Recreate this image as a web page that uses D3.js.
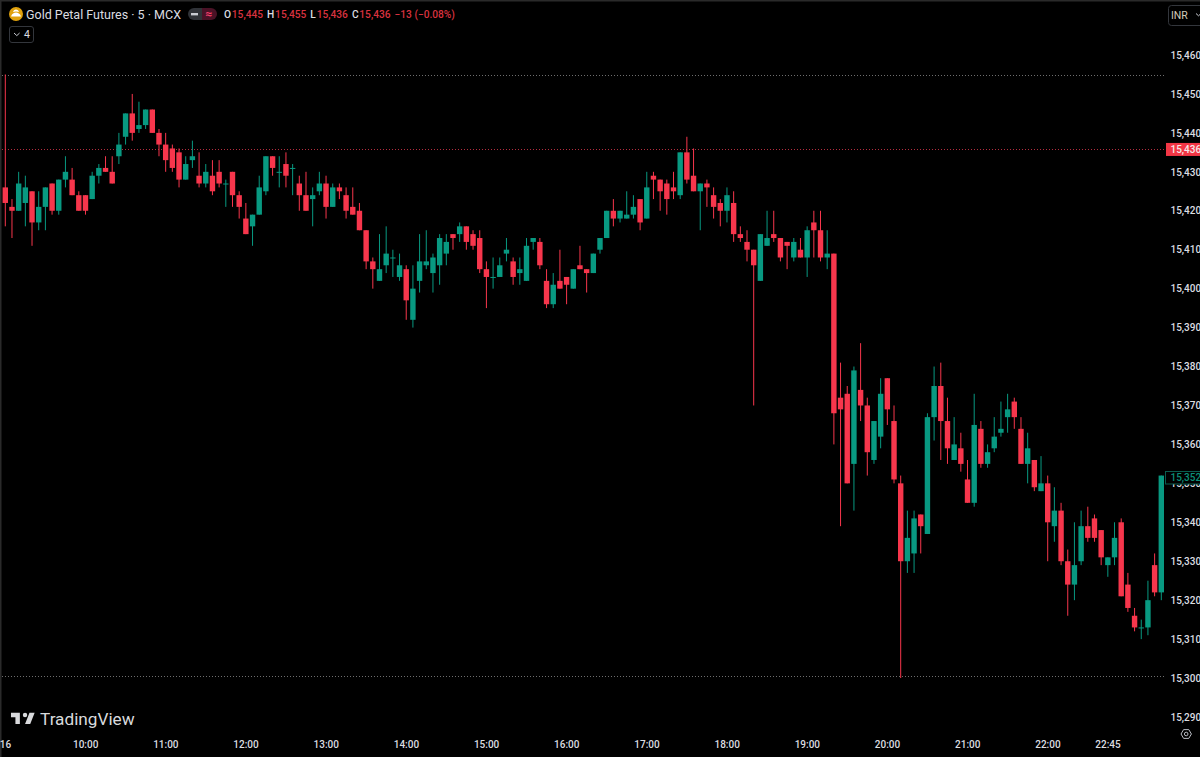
<!DOCTYPE html>
<html>
  <head>
    <meta charset="UTF-8" />
    <title>Gold Petal Futures</title>
    <style>
      html, body { margin: 0; padding: 0; background: #000; overflow: hidden; }
      svg { display: block; font-family: Roboto, "Liberation Sans", sans-serif; }
      .domain { display: none; }
      .axis text { fill: #dcdde0; font-size: 10px; font-weight: 500; font-family: Roboto, sans-serif; }
    </style>
    <script src="https://d3js.org/d3.v7.min.js"></script>
  </head>
  <body>
    <div id="viz"></div>
    <script>
      const opens = [
        15426,15421,15420,15422,15425,15417,15421,15427,15420,15428,
        15428,15424,15424,15423,15429,15431,15430,15434,15439,15445,
        15441,15442,15446,15440,15437,15436,15435,15428,15433,15429,
        15427,15429,15430,15427,15430,15424,15418,15416,15419,15425,
        15434,15430,15432,15431,15427,15424,15423,15425,15427,15421,
        15426,15424,15421,15420,15415,15407,15402,15406,15408,15403,
        15405,15392,15402,15406,15404,15406,15409,15414,15414,15416,
        15414,15413,15405,15403,15403,15409,15407,15404,15402,15412,
        15412,15402,15396,15402,15403,15400,15406,15405,15404,15410,
        15413,15420,15418,15418,15419,15423,15418,15429,15428,15427,
        15426,15424,15435,15429,15425,15427,15424,15422,15420,15422,
        15414,15412,15410,15402,15411,15414,15413,15412,15408,15410,
        15408,15417,15415,15408,15409,15372,15373,15355,15374,15370,
        15356,15362,15377,15366,15350,15330,15332,15342,15337,15367,
        15375,15366,15356,15359,15351,15345,15364,15355,15359,15363,
        15367,15371,15364,15355,15356,15348,15350,15339,15343,15330,
        15324,15330,15339,15341,15338,15329,15331,15340,15324,15316,
        15313,15313,15329,15322
      ];
      const highs = [
        15455,15423,15430,15429,15425,15425,15426,15427,15428,15434,
        15431,15425,15424,15430,15432,15434,15434,15440,15445,15450,
        15448,15446,15446,15441,15440,15437,15436,15434,15438,15435,
        15432,15433,15433,15428,15430,15425,15422,15419,15429,15434,
        15434,15434,15435,15432,15429,15430,15426,15430,15429,15427,
        15427,15426,15426,15422,15415,15408,15414,15416,15410,15409,
        15406,15406,15414,15415,15409,15414,15414,15414,15417,15416,
        15415,15415,15407,15408,15408,15413,15408,15408,15413,15413,
        15413,15405,15404,15410,15403,15405,15411,15405,15409,15413,
        15420,15423,15420,15425,15424,15423,15430,15430,15428,15428,
        15430,15435,15439,15436,15427,15428,15426,15423,15426,15425,
        15416,15415,15410,15414,15420,15420,15413,15412,15413,15413,
        15416,15420,15420,15415,15409,15381,15375,15380,15386,15372,
        15366,15377,15377,15370,15352,15343,15343,15342,15368,15380,
        15381,15372,15367,15363,15356,15373,15366,15360,15367,15371,
        15373,15372,15367,15363,15356,15357,15352,15349,15345,15333,
        15340,15343,15344,15342,15338,15331,15340,15341,15327,15318,
        15315,15325,15332,15352
      ];
      const lows = [
        15416,15413,15420,15416,15411,15415,15415,15419,15419,15426,
        15424,15420,15419,15423,15427,15430,15427,15432,15437,15438,
        15440,15441,15440,15434,15430,15430,15426,15428,15431,15426,
        15426,15424,15426,15421,15421,15418,15414,15411,15419,15424,
        15429,15426,15426,15424,15420,15420,15416,15424,15418,15421,
        15423,15418,15419,15415,15405,15400,15402,15404,15403,15402,
        15392,15390,15399,15405,15399,15401,15406,15410,15412,15410,
        15410,15404,15395,15400,15403,15407,15401,15401,15402,15410,
        15405,15395,15395,15400,15396,15400,15405,15399,15404,15409,
        15413,15416,15417,15418,15418,15415,15418,15423,15420,15419,
        15423,15423,15427,15425,15415,15421,15418,15416,15417,15412,
        15412,15407,15370,15402,15411,15412,15407,15405,15407,15408,
        15403,15408,15407,15405,15360,15339,15350,15343,15366,15352,
        15355,15359,15365,15350,15300,15327,15327,15332,15337,15361,
        15356,15355,15356,15353,15345,15344,15354,15354,15358,15362,
        15363,15364,15355,15350,15348,15348,15330,15335,15329,15316,
        15320,15329,15335,15335,15329,15326,15329,15321,15317,15312,
        15310,15311,15321,15320
      ];
      const closes = [
        15422,15420,15427,15426,15417,15421,15426,15420,15428,15430,
        15424,15420,15420,15429,15431,15430,15427,15437,15445,15440,
        15442,15446,15440,15437,15433,15431,15428,15432,15434,15427,
        15430,15425,15427,15427,15424,15421,15414,15419,15426,15434,
        15431,15430,15429,15431,15424,15420,15424,15427,15421,15426,
        15425,15420,15419,15415,15407,15405,15405,15409,15408,15406,
        15397,15400,15407,15407,15408,15413,15412,15413,15416,15412,
        15411,15405,15403,15403,15406,15410,15403,15405,15411,15413,
        15406,15396,15401,15400,15401,15405,15405,15404,15409,15413,
        15420,15418,15420,15419,15421,15417,15426,15428,15425,15423,
        15425,15435,15428,15425,15427,15426,15421,15420,15424,15414,
        15413,15410,15406,15414,15413,15413,15408,15411,15412,15408,
        15415,15415,15408,15409,15368,15369,15350,15379,15370,15358,
        15366,15373,15369,15351,15330,15336,15341,15339,15367,15375,
        15366,15359,15360,15355,15345,15365,15355,15358,15362,15364,
        15369,15367,15355,15359,15349,15350,15340,15343,15330,15324,
        15329,15339,15336,15336,15331,15331,15336,15321,15318,15313,
        15313,15320,15322,15352
      ];
      const priceTicks = [15460,15450,15440,15430,15420,15410,15400,15390,15380,15370,15360,15350,15340,15330,15320,15310,15300,15290];
      const timeTickBars = [0,12,24,36,48,60,72,84,96,108,120,132,144,156,165];
      const timeTickLabels = ['16','10:00','11:00','12:00','13:00','14:00','15:00','16:00','17:00','18:00','19:00','20:00','21:00','22:00','22:45'];
      const levelLines = [15454.8, 15435.8, 15300.5];
      const levelColors = ['#6e6e6e', '#b32c3e', '#6e6e6e'];
      const headerValues = [['O','15,445'],['H','15,455'],['L','15,436'],['C','15,436']];

      const W = 1200, H = 757;
      const RED = '#f7364c', GREEN = '#089981';

      const svg = d3.select('#viz').append('svg').attr('width', W).attr('height', H);
      svg.append('rect').attr('width', W).attr('height', H).attr('fill', '#000');
      // thin window edges
      svg.append('rect').attr('width', W).attr('height', 1.5).attr('fill', '#2a2a2a');
      svg.append('rect').attr('width', 1.5).attr('height', H).attr('fill', '#2a2a2a');

      const x = d3.scaleLinear().domain([0, opens.length - 1]).range([5, 1161]);
      const y = d3.scaleLinear().domain([15290, 15460]).range([717, 55]);

      // dotted level lines
      svg.selectAll('.level')
        .data(levelLines)
        .join('line')
        .attr('class', 'level')
        .attr('x1', 2)
        .attr('x2', 1166)
        .attr('y1', (d) => Math.round(y(d)) + 0.5)
        .attr('y2', (d) => Math.round(y(d)) + 0.5)
        .attr('stroke', (d, i) => levelColors[i])
        .attr('stroke-width', 1)
        .attr('stroke-dasharray', '1 2');

      // candles, left unsnapped so the wicks soften like the screenshot
      const candles = svg.append('g')
        .selectAll('g')
        .data(d3.range(opens.length))
        .join('g');
      const up = (i) => closes[i] >= opens[i];

      candles.append('line')
        .attr('x1', (i) => x(i) + 0.3)
        .attr('x2', (i) => x(i) + 0.3)
        .attr('y1', (i) => y(highs[i]))
        .attr('y2', (i) => y(lows[i]))
        .attr('stroke', (i) => (up(i) ? GREEN : RED))
        .attr('stroke-width', 1);

      candles.append('rect')
        .attr('x', (i) => x(i) - 2.4)
        .attr('width', 5.4)
        .attr('y', (i) => y(Math.max(opens[i], closes[i])))
        .attr('height', (i) => Math.max(1, Math.abs(y(opens[i]) - y(closes[i]))))
        .attr('fill', (i) => (up(i) ? GREEN : RED));

      // axes
      svg.append('g')
        .attr('class', 'axis')
        .attr('transform', 'translate(1170.5,0)')
        .call(d3.axisRight(y).tickValues(priceTicks).tickSize(0).tickPadding(0).tickFormat(d3.format(',')));

      svg.append('g')
        .attr('class', 'axis')
        .attr('transform', 'translate(0,737)')
        .call(d3.axisBottom(x).tickValues(timeTickBars).tickSize(0).tickPadding(4)
          .tickFormat((d) => timeTickLabels[timeTickBars.indexOf(d)]));

      // price tags
      svg.append('rect').attr('x', 1166).attr('y', y(15436) - 5.5).attr('width', 34).attr('height', 13).attr('fill', '#f23645');
      svg.append('text').attr('x', 1170.5).attr('y', y(15436) + 4.6).attr('fill', '#f5e9ea').attr('font-size', 10).attr('font-weight', 500).text('15,436');
      svg.append('rect').attr('x', 1165.5).attr('y', 471.5).attr('width', 35).attr('height', 12.5).attr('fill', '#000').attr('stroke', '#0b5c4f');
      svg.append('text').attr('x', 1170.5).attr('y', 481).attr('fill', '#0c8f79').attr('font-size', 10).attr('font-weight', 500).text(d3.format(',')(closes[closes.length - 1]));

      // header
      const head = svg.append('g');
      head.append('circle').attr('cx', 16).attr('cy', 14).attr('r', 7).attr('fill', '#e0a10c');
      head.append('path').attr('d', 'M11 16.5c1-3 3-4 5-4s4 1 5 4zM13 12c.8-1.6 1.8-2.4 3-2.4s2.2.8 3 2.4c-2-.8-4-.8-6 0z').attr('fill', '#fff');
      head.append('text').attr('x', 26).attr('y', 19).attr('fill', '#dcdde0').attr('font-size', 12.5).text('Gold Petal Futures · 5 · MCX');
      head.append('path').attr('d', 'M202 8h-8a6 6 0 0 0 0 12h8z').attr('fill', '#303338');
      head.append('path').attr('d', 'M202 8h9a6 6 0 0 1 0 12h-9z').attr('fill', '#4a1226');
      head.append('rect').attr('x', 191).attr('y', 13).attr('width', 7).attr('height', 2.4).attr('fill', '#c9ccd2');
      head.append('text').attr('x', 209).attr('y', 18).attr('text-anchor', 'middle').attr('fill', '#f23d6a').attr('font-size', 12).attr('font-weight', 700).text('≈');

      const legend = head.append('text').attr('x', 224).attr('y', 18).attr('font-size', 10.2).attr('font-weight', 500);
      headerValues.forEach(([k, v], i) => {
        legend.append('tspan').attr('dx', i ? 4 : 0).attr('fill', '#dcdde0').text(k);
        legend.append('tspan').attr('dx', 0.8).attr('fill', '#d8323f').text(v);
      });
      legend.append('tspan').attr('dx', 4).attr('fill', '#d8323f').text('−13 (−0.08%)');

      // collapsed indicators button
      head.append('rect').attr('x', 9.5).attr('y', 26.5).attr('width', 24).attr('height', 16).attr('rx', 2.5).attr('fill', 'none').attr('stroke', '#33363c');
      head.append('path').attr('d', 'M14 33l2.8 2.6L19.6 33').attr('fill', 'none').attr('stroke', '#c9ccd2').attr('stroke-width', 1);
      head.append('text').attr('x', 24).attr('y', 38).attr('fill', '#dcdde0').attr('font-size', 10.5).text('4');

      // currency button
      head.append('rect').attr('x', 1168.5).attr('y', 5.5).attr('width', 40).attr('height', 20).attr('rx', 3).attr('fill', 'none').attr('stroke', '#33363c');
      head.append('text').attr('x', 1171).attr('y', 19).attr('fill', '#d1cbb8').attr('font-size', 10.5).text('INR');
      head.append('path').attr('d', 'M1196 13.5l2.5 2.3 2.5-2.3').attr('fill', 'none').attr('stroke', '#c9ccd2');

      // settings icon
      head.append('path').attr('d', 'M1181 734l2.6-4.4h5.2L1191.4 734l-2.6 4.4h-5.2z').attr('fill', 'none').attr('stroke', '#b8bbc2');
      head.append('circle').attr('cx', 1186.2).attr('cy', 734).attr('r', 1.8).attr('fill', 'none').attr('stroke', '#b8bbc2');

      // watermark
      const mark = svg.append('g');
      mark.append('path')
        .attr('transform', 'translate(9.5,708.4) scale(0.74)')
        .attr('d', 'M14 6H2v6h6v9h6V6Zm14 15h-7l6-15h7l-6 15Zm-7-9a3 3 0 1 0 0-6 3 3 0 0 0 0 6Z')
        .attr('fill', '#d9dadd');
      mark.append('text').attr('x', 40).attr('y', 724.5).attr('fill', '#d9dadd').attr('font-size', 17.2).text('TradingView');
    </script>
  </body>
</html>
